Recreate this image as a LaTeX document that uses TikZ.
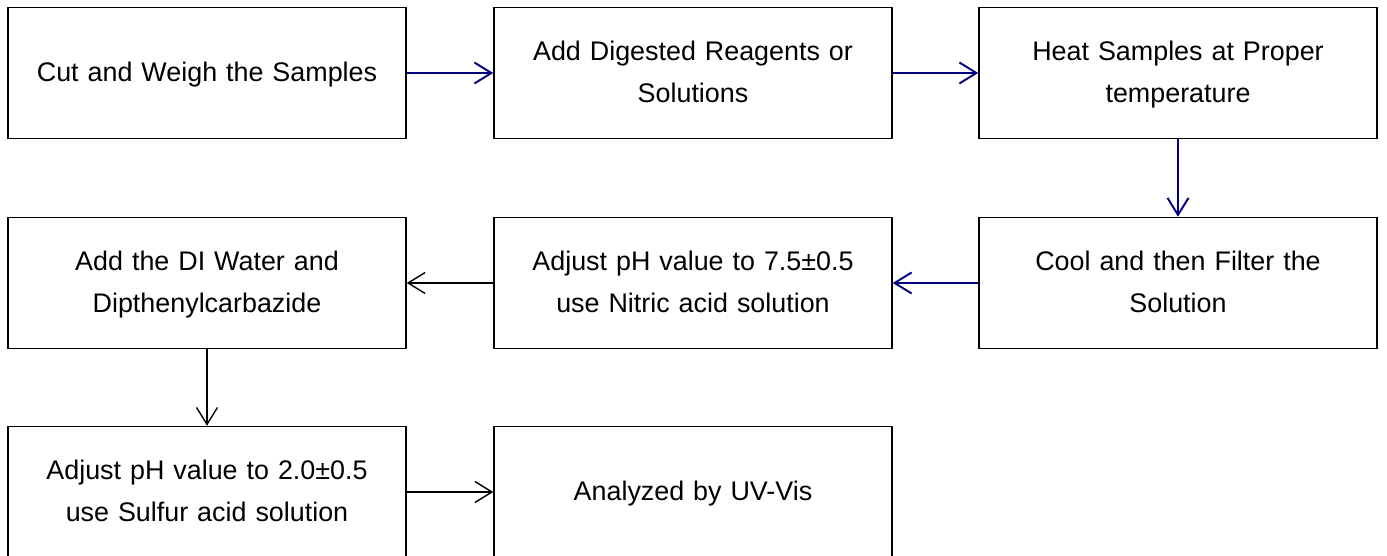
\documentclass[tikz,border=0pt]{standalone}
\usepackage{fontspec}
\setmainfont{Liberation Sans}
\usetikzlibrary{arrows.meta}
\definecolor{arrowblue}{RGB}{0,0,128}
\begin{document}
\begin{tikzpicture}[main/.style = {draw, line width=0.85pt, minimum width=7.96cm, minimum height=2.62cm, text width=7.4cm, align=center, inner sep=0pt, font=\fontsize{15.3}{24}\selectfont, execute at begin node=\strut, execute at end node=\strut},
    flow/.style = {-{Straight Barb[length=3.4mm, width=4.2mm]}, line width=0.8pt},
    blueflow/.style = {flow, draw=arrowblue, line width=1.1pt}]
        \useasboundingbox (0,0) rectangle (27.74,11.12);
        \node[main] at (4.14,9.66) (1) { Cut and Weigh the Samples };
        \node[main] at (13.86,9.66) (2) { Add Digested Reagents or\\ Solutions };
        \node[main] at (23.56,9.66) (3) { Heat Samples at Proper\\ temperature };
        \node[main] at (23.56,5.46) (4) { Cool and then Filter the\\ Solution };
        \node[main] at (13.86,5.46) (5) { Adjust pH value to 7.5±0.5\\ use Nitric acid solution };
        \node[main] at (4.14,5.46) (6) { Add the DI Water and\\ Dipthenylcarbazide };
        \node[main] at (4.14,1.28) (7) { Adjust pH value to 2.0±0.5\\ use Sulfur acid solution };
        \node[main] at (13.86,1.28) (8) { Analyzed by UV-Vis };
        \draw [blueflow] (1) -- (2);
        \draw [blueflow] (2) -- (3);
        \draw [blueflow] (3) -- (4);
        \draw [blueflow] (4) -- (5);
        \draw [flow] (5) -- (6);
        \draw [flow] (6) -- (7);
        \draw [flow] (7) -- (8);
    \end{tikzpicture}
\end{document}
